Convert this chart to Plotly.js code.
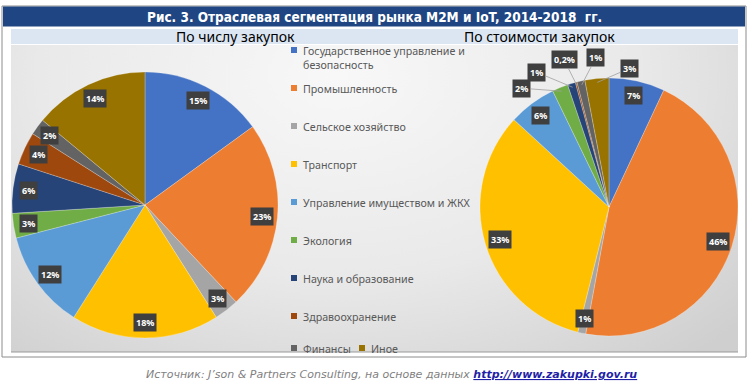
<!DOCTYPE html>
<html>
<head>
<meta charset="utf-8">
<script src="https://cdn.plot.ly/plotly-3.0.1.min.js"></script>
<style>html,body{margin:0;padding:0;background:#fff}#chart{width:750px;height:386px}</style>
</head>
<body>
<div id="chart"></div>
<script>
// ---- data ----
const categories = [
  "Государственное управление и безопасность",
  "Промышленность",
  "Сельское хозяйство",
  "Транспорт",
  "Управление имуществом и ЖКХ",
  "Экология",
  "Наука и образование",
  "Здравоохранение",
  "Финансы",
  "Иное"
];
const countShares = [15, 23, 3, 18, 12, 3, 6, 4, 2, 14];       // По числу закупок, %
const valueShares = [7, 46, 1, 33, 6, 2, 1, 0.2, 1, 3];        // По стоимости закупок, %
const legendLabels = [
  "Государственное управление и<br>безопасность",
  "Промышленность",
  "Сельское хозяйство",
  "Транспорт",
  "Управление имуществом и ЖКХ",
  "Экология",
  "Наука и образование",
  "Здравоохранение",
  "Финансы",
  "Иное"
];
const titleText = "Рис. 3. Отраслевая сегментация рынка M2M и IoT, 2014-2018  гг.";
const subtitles = ["По числу закупок", "По стоимости закупок"];

// ---- style ----
const colors = ["#4472C4","#ED7D31","#A5A5A5","#FFC000","#5B9BD5","#70AD47","#264478","#9E480E","#636363","#997300"];
const W = 750, H = 386;
const px = x => x / W, py = y => 1 - y / H;
// pie boxes in pixels [left, top, right, bottom]
const pieBoxes = [[12, 72, 278, 338], [480, 78, 738, 336]];
// outside label offsets (px) for small slices of the right pie
const outsideOffsets = {5: [-40, -3], 6: [-36, -15], 7: [-13, -26], 8: [14, -27], 9: [32, -14]};

function fmt(v){ return String(v).replace('.', ',') + '%'; }

const traces = [countShares, valueShares].map((vals, k) => {
  const b = pieBoxes[k];
  return {
    type: 'pie', labels: categories, values: vals, sort: false, direction: 'clockwise', rotation: 0,
    domain: {x: [px(b[0]), px(b[2])], y: [py(b[3]), py(b[1])]},
    marker: {colors: colors, line: {color: 'rgba(255,255,255,0.4)', width: 0.6}},
    textinfo: 'none', hoverinfo: 'label+percent', showlegend: false
  };
});

const annotations = [];
const shapes = [];

// data labels computed from the values
[countShares, valueShares].forEach((vals, k) => {
  const b = pieBoxes[k];
  const cx = (b[0] + b[2]) / 2, cy = (b[1] + b[3]) / 2;
  const R = Math.min(b[2] - b[0], b[3] - b[1]) / 2;
  const total = vals.reduce((a, c) => a + c, 0);
  let cum = 0;
  vals.forEach((v, i) => {
    const mid = (cum + v / 2) / total; cum += v;
    const th = 2 * Math.PI * mid;
    const base = {text: '<b>' + fmt(v) + '</b>', bgcolor: '#3f3f3f', borderpad: 2,
      font: {family: 'Noto Sans', size: 9, color: '#ffffff'}, xref: 'paper', yref: 'paper',
      xanchor: 'center', yanchor: 'middle'};
    if (k === 1 && outsideOffsets[i]) {
      const ex = cx + R * 0.97 * Math.sin(th), ey = cy - R * 0.97 * Math.cos(th);
      const o = outsideOffsets[i];
      annotations.push(Object.assign(base, {x: px(ex), y: py(ey), showarrow: true, arrowhead: 0,
        arrowwidth: 0.8, arrowcolor: '#a0a0a0', ax: o[0], ay: o[1], standoff: 0}));
    } else {
      const kr = 0.885;
      const lx = cx + R * kr * Math.sin(th), ly = cy - R * kr * Math.cos(th);
      annotations.push(Object.assign(base, {x: px(lx), y: py(ly), showarrow: false}));
    }
  });
});

// legend (text as annotations, colour squares as shapes)
const legendRows = [50, 88, 126, 164, 202, 240, 278, 316, 348, 348];
const legendX = [301, 301, 301, 301, 301, 301, 301, 301, 301, 369];
legendLabels.forEach((t, i) => {
  const y = legendRows[i], x = legendX[i];
  annotations.push({text: t, x: px(x), y: py(y - 8), xref: 'paper', yref: 'paper', xanchor: 'left', yanchor: 'top',
    align: 'left', showarrow: false, font: {family: 'Noto Sans', size: 10.7, color: '#595959'}});
  shapes.push({type: 'rect', xref: 'paper', yref: 'paper', x0: px(x - 10), x1: px(x - 4), y0: py(y + 3), y1: py(y - 3),
    fillcolor: colors[i], line: {width: 0}});
});

// frame, title bar, subtitle band
shapes.unshift(
  {type: 'rect', xref: 'paper', yref: 'paper', layer: 'below', x0: px(2), x1: px(746), y0: py(357), y1: py(6), line: {color: '#8c8c8c', width: 1}, fillcolor: 'rgba(0,0,0,0)'},
  {type: 'rect', xref: 'paper', yref: 'paper', layer: 'below', x0: px(3), x1: px(745), y0: py(26.5), y1: py(6.5), line: {width: 0}, fillcolor: '#1f4682'},
  {type: 'rect', xref: 'paper', yref: 'paper', layer: 'below', x0: px(11), x1: px(738), y0: py(44), y1: py(29), line: {width: 0}, fillcolor: '#dce6f2'},
  {type: 'line', xref: 'paper', yref: 'paper', layer: 'below', x0: px(11), x1: px(738), y0: py(352), y1: py(352), line: {color: '#9a9a9a', width: 1.2}}
);

annotations.push(
  {text: '<b>' + titleText + '</b>', x: px(374), y: py(16.5), xref: 'paper', yref: 'paper', xanchor: 'center', yanchor: 'middle', showarrow: false,
    font: {family: 'DejaVu Sans Condensed', size: 13.5, color: '#ffffff'}},
  {text: subtitles[0], x: px(235), y: py(36.5), xref: 'paper', yref: 'paper', xanchor: 'center', yanchor: 'middle', showarrow: false,
    font: {family: 'Noto Sans', size: 14, color: '#000000'}},
  {text: subtitles[1], x: px(539), y: py(36.5), xref: 'paper', yref: 'paper', xanchor: 'center', yanchor: 'middle', showarrow: false,
    font: {family: 'Noto Sans', size: 14, color: '#000000'}},
  {text: '<i>Источник: J’son &amp; Partners Consulting, на основе данных </i><b><i><span style="color:#1f1fa8;text-decoration:underline">http://www.zakupki.gov.ru</span></i></b>',
    x: px(392), y: py(374), xref: 'paper', yref: 'paper', xanchor: 'center', yanchor: 'middle', showarrow: false,
    font: {family: 'DejaVu Sans', size: 11, color: '#7f7f7f'}}
);

const grad = '<svg xmlns="http://www.w3.org/2000/svg" width="727" height="307" viewBox="0 0 727 307" preserveAspectRatio="none">' +
  '<defs><radialGradient id="g" cx="0.45" cy="0.1" r="0.75" gradientTransform="translate(0.45 0.1) scale(1 1.6) translate(-0.45 -0.1)">' +
  '<stop offset="0" stop-color="#f8f8f8"/><stop offset="0.55" stop-color="#e9e9e9"/><stop offset="1" stop-color="#cfcfcf"/></radialGradient></defs>' +
  '<rect width="727" height="307" fill="url(#g)"/></svg>';

const layout = {
  width: W, height: H, margin: {l: 0, r: 0, t: 0, b: 0},
  paper_bgcolor: '#ffffff', plot_bgcolor: '#ffffff',
  images: [{source: 'data:image/svg+xml;charset=utf-8,' + encodeURIComponent(grad), xref: 'paper', yref: 'paper',
    x: px(11), y: py(45), sizex: px(738) - px(11), sizey: py(45) - py(352), xanchor: 'left', yanchor: 'top',
    sizing: 'stretch', layer: 'below'}],
  shapes: shapes, annotations: annotations,
  font: {family: 'Noto Sans'}
};

Plotly.newPlot('chart', traces, layout, {displayModeBar: false, staticPlot: true});
</script>
</body>
</html>
